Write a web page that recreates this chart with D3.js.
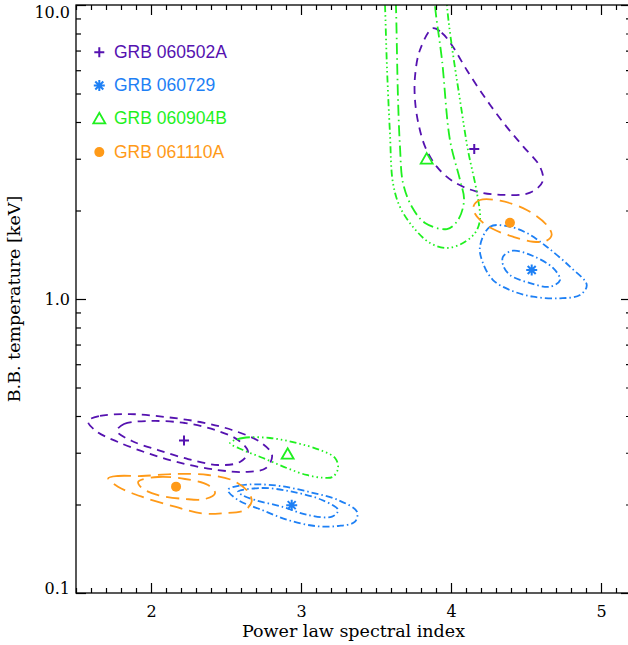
<!DOCTYPE html>
<html>
<head>
<meta charset="utf-8">
<script src="https://cdn.jsdelivr.net/npm/d3@7"></script>
<style>
  body { margin: 0; background: #fff; }
  svg { display: block; }
</style>
</head>
<body>
<div id="chart"></div>
<script>
// GRB names, legend order
const grbNames = ["GRB 060502A", "GRB 060729", "GRB 060904B", "GRB 061110A"];

// best fit points: [power law index, kT in keV], two components per burst
const fit060502A = [[2.22, 0.330], [4.155, 3.24]];
const fit060729 = [[2.938, 0.199], [4.538, 1.255]];
const fit060904B = [[2.911, 0.2965], [3.838, 2.99]];
const fit061110A = [[2.167, 0.230], [4.393, 1.818]];

// confidence contours: [index, kT]
const c060502A_hi = [[3.878, 8.33], [3.938, 8.05], [4.005, 7.31], [4.105, 6.01], [4.238, 4.75], [4.371, 3.85],
  [4.482, 3.30], [4.593, 2.82], [4.611, 2.51], [4.527, 2.30], [4.349, 2.26], [4.171, 2.32], [4.015, 2.51],
  [3.905, 2.82], [3.827, 3.30], [3.782, 3.97], [3.76, 4.75], [3.76, 5.70], [3.793, 7.03]];
const c060502A_loOuter = [[1.58, 0.3846], [1.66, 0.400], [1.86, 0.406], [2.093, 0.397], [2.327, 0.3816],
  [2.54, 0.3585], [2.727, 0.3263], [2.807, 0.2947], [2.767, 0.2662], [2.627, 0.258], [2.447, 0.262],
  [2.227, 0.2747], [1.993, 0.2971], [1.78, 0.3263], [1.633, 0.3556]];
const c060502A_loInner = [[1.773, 0.3556], [1.82, 0.3756], [1.993, 0.3846], [2.227, 0.3786], [2.427, 0.3585],
  [2.58, 0.3314], [2.647, 0.3017], [2.593, 0.279], [2.447, 0.2725], [2.247, 0.2856], [2.047, 0.3064], [1.873, 0.3289]];

const c060729_hiOuter = [[4.193, 1.506], [4.26, 1.762], [4.371, 1.771], [4.505, 1.677], [4.638, 1.506],
  [4.793, 1.288], [4.905, 1.116], [4.86, 1.032], [4.727, 1.0055], [4.547, 1.018], [4.393, 1.073],
  [4.28, 1.16], [4.213, 1.326]];
const c060729_hiInner = [[4.347, 1.393], [4.413, 1.46], [4.547, 1.40], [4.68, 1.275], [4.727, 1.16],
  [4.66, 1.101], [4.527, 1.133], [4.393, 1.207], [4.347, 1.305]];
const c060729_loOuter = [[2.513, 0.224], [2.593, 0.2321], [2.705, 0.2343], [2.86, 0.2312], [3.047, 0.2211],
  [3.247, 0.2072], [3.373, 0.189], [3.36, 0.1748], [3.247, 0.169], [3.093, 0.169], [2.913, 0.1771],
  [2.74, 0.1916], [2.58, 0.2072]];
const c060729_loInner = [[2.58, 0.2211], [2.74, 0.2276], [2.94, 0.2211], [3.14, 0.2072], [3.247, 0.1916],
  [3.207, 0.1818], [3.047, 0.1842], [2.873, 0.1966], [2.693, 0.2072], [2.607, 0.2154]];

const c060904B_hiOuter = [[3.553, 12], [3.56, 10], [3.573, 6.17], [3.593, 3.67], [3.613, 2.481], [3.66, 2.056],
  [3.747, 1.758], [3.86, 1.55], [3.973, 1.491], [4.08, 1.55], [4.16, 1.677], [4.193, 1.857], [4.173, 2.294],
  [4.113, 3.212], [4.06, 4.75], [4.0, 7.6], [3.973, 10], [3.967, 12]];
const c060904B_hiInner = [[3.627, 12], [3.633, 10], [3.647, 4.75], [3.66, 3.289], [3.68, 2.481], [3.74, 2.056],
  [3.827, 1.814], [3.973, 1.73], [4.047, 1.857], [4.087, 2.171], [4.06, 2.54], [3.993, 3.474],
  [3.94, 6.5], [3.893, 10], [3.887, 12]];
const c060904B_lo = [[2.527, 0.3237], [2.613, 0.3367], [2.793, 0.3367], [2.971, 0.3237], [3.127, 0.3064],
  [3.227, 0.2879], [3.247, 0.2662], [3.213, 0.2486], [3.147, 0.2467], [3.038, 0.252], [2.905, 0.2662],
  [2.747, 0.2879], [2.613, 0.3064]];

const c061110A_hi = [[4.149, 2.061], [4.193, 2.171], [4.327, 2.16], [4.505, 2.008], [4.638, 1.785],
  [4.671, 1.651], [4.638, 1.579], [4.547, 1.566], [4.413, 1.629], [4.28, 1.73], [4.193, 1.857], [4.153, 1.982]];
const c061110A_loOuter = [[1.715, 0.2455], [1.78, 0.25], [1.938, 0.25], [2.16, 0.254], [2.38, 0.252],
  [2.538, 0.2423], [2.647, 0.2211], [2.671, 0.2044], [2.627, 0.1916], [2.471, 0.1867], [2.338, 0.1867],
  [2.16, 0.1966], [1.938, 0.2126], [1.78, 0.230]];
const c061110A_loInner = [[1.915, 0.2391], [2.047, 0.2481], [2.227, 0.2442], [2.38, 0.2329], [2.427, 0.2188],
  [2.36, 0.2088], [2.227, 0.2088], [2.047, 0.2154], [1.938, 0.2276]];

const xMajor = [2, 3, 4, 5];
const yMajor = [0.1, 1, 10];

// styles
const colors = ["#5512b0", "#1e80f5", "#1ff01f", "#ff9a18"];
const symbols = ["plus", "asterisk", "triangle", "circle"];
const fits = [fit060502A, fit060729, fit060904B, fit061110A];

const dashPurple = "8,6";
const dashBlue = "7,3,1.5,3";
const dash3dot = "7,3,1.5,3,1.5,3,1.5,3";
const dashDot = "11,4,1.5,4";
const dashOrange = "13,7";

const contours = [
  { pts: c060502A_hi, g: 0, dash: dashPurple, closed: true },
  { pts: c060502A_loOuter, g: 0, dash: dashPurple, closed: true },
  { pts: c060502A_loInner, g: 0, dash: dashPurple, closed: true },
  { pts: c060729_hiOuter, g: 1, dash: dashBlue, closed: true },
  { pts: c060729_hiInner, g: 1, dash: dashBlue, closed: true },
  { pts: c060729_loOuter, g: 1, dash: dashBlue, closed: true },
  { pts: c060729_loInner, g: 1, dash: dashBlue, closed: true },
  { pts: c060904B_hiOuter, g: 2, dash: dash3dot, closed: false },
  { pts: c060904B_hiInner, g: 2, dash: dashDot, closed: false },
  { pts: c060904B_lo, g: 2, dash: dash3dot, closed: true },
  { pts: c061110A_hi, g: 3, dash: dashOrange, closed: true },
  { pts: c061110A_loOuter, g: 3, dash: dashOrange, closed: true },
  { pts: c061110A_loInner, g: 3, dash: dashOrange, closed: true },
];

const width = 628, height = 645;
const mLeft = 76, mRight = 631, mTop = 5, mBottom = 593;

const svg = d3.select("#chart").append("svg")
  .attr("width", width).attr("height", height);

const x = d3.scaleLinear().domain([1.5, 5.2]).range([mLeft, mRight]);
const y = d3.scaleLog().domain([0.1, 10]).range([mBottom, mTop]);

svg.append("clipPath").attr("id", "plotclip")
  .append("rect").attr("x", mLeft).attr("y", mTop)
  .attr("width", mRight - mLeft).attr("height", mBottom - mTop);

const plot = svg.append("g").attr("clip-path", "url(#plotclip)");

const lineClosed = d3.line().x(d => x(d[0])).y(d => y(d[1])).curve(d3.curveCatmullRomClosed.alpha(0.5));
const lineOpen = d3.line().x(d => x(d[0])).y(d => y(d[1])).curve(d3.curveCatmullRom.alpha(0.5));

plot.selectAll("path.contour")
  .data(contours)
  .enter().append("path")
  .attr("class", "contour")
  .attr("d", d => (d.closed ? lineClosed : lineOpen)(d.pts))
  .attr("fill", "none")
  .attr("stroke", d => colors[d.g])
  .attr("stroke-width", 1.8)
  .attr("stroke-dasharray", d => d.dash);

// markers
function drawSymbol(sel, kind, color) {
  if (kind === "plus") {
    sel.append("path").attr("d", "M-5,0H5M0,-5V5")
      .attr("stroke", color).attr("stroke-width", 2).attr("fill", "none");
  } else if (kind === "asterisk") {
    sel.append("path").attr("d", "M-5.5,0H5.5M0,-5.5V5.5M-4,-4L4,4M-4,4L4,-4")
      .attr("stroke", color).attr("stroke-width", 2).attr("fill", "none");
  } else if (kind === "triangle") {
    sel.append("path").attr("d", "M0,-6L6,4.5H-6Z")
      .attr("stroke", color).attr("stroke-width", 1.8).attr("fill", "none");
  } else {
    sel.append("circle").attr("r", 5).attr("fill", color);
  }
}

fits.forEach((f, i) => {
  f.forEach(p => {
    const g = plot.append("g").attr("transform", `translate(${x(p[0])},${y(p[1])})`);
    drawSymbol(g, symbols[i], colors[i]);
  });
});

// axes
const serif = "'DejaVu Serif', serif";
const xMinor = d3.range(15, 53).map(v => v / 10).filter(v => !xMajor.includes(v));
const yMinor = [];
[0.1, 1].forEach(dec => { for (let k = 2; k <= 9; k++) yMinor.push(+(dec * k).toFixed(2)); });

function styleAxis(g) {
  g.select(".domain").remove();
  g.selectAll("line").attr("stroke", "#000").attr("stroke-width", 1.2);
}

svg.append("g").attr("transform", `translate(0,${mBottom})`)
  .call(d3.axisBottom(x).tickValues(xMinor).tickSize(-5).tickFormat(""))
  .call(styleAxis);
svg.append("g").attr("transform", `translate(0,${mBottom})`)
  .call(d3.axisBottom(x).tickValues(xMajor).tickSize(-10).tickPadding(13).tickFormat(d3.format("d")))
  .call(styleAxis)
  .call(g => g.selectAll("text").attr("font-family", serif).attr("font-size", 16).attr("fill", "#000"));

svg.append("g").attr("transform", `translate(0,${mTop})`)
  .call(d3.axisTop(x).tickValues(xMinor).tickSize(-5).tickFormat(""))
  .call(styleAxis);
svg.append("g").attr("transform", `translate(0,${mTop})`)
  .call(d3.axisTop(x).tickValues(xMajor).tickSize(-10).tickFormat(""))
  .call(styleAxis);

svg.append("g").attr("transform", `translate(${mLeft},0)`)
  .call(d3.axisLeft(y).tickValues(yMinor).tickSize(-5).tickFormat(""))
  .call(styleAxis);
svg.append("g").attr("transform", `translate(${mLeft},0)`)
  .call(d3.axisLeft(y).tickValues(yMajor).tickSize(-10).tickPadding(6).tickFormat(d3.format(".1f")))
  .call(styleAxis)
  .call(g => g.selectAll("text")
    .attr("font-family", serif).attr("font-size", 16).attr("fill", "#000")
    .attr("dy", null)
    .attr("y", d => Math.max(17, Math.min(mBottom, y(d) + 5.5)) - y(d)));

svg.append("g").attr("transform", `translate(${mRight},0)`)
  .call(d3.axisRight(y).tickValues(yMinor).tickSize(-5).tickFormat(""))
  .call(styleAxis);
svg.append("g").attr("transform", `translate(${mRight},0)`)
  .call(d3.axisRight(y).tickValues(yMajor).tickSize(-10).tickFormat(""))
  .call(styleAxis);

svg.append("rect")
  .attr("x", mLeft).attr("y", mTop)
  .attr("width", mRight - mLeft).attr("height", mBottom - mTop)
  .attr("fill", "none").attr("stroke", "#000").attr("stroke-width", 1.3);

// titles
svg.append("text")
  .attr("x", (mLeft + mRight) / 2).attr("y", 637)
  .attr("text-anchor", "middle")
  .attr("font-family", serif).attr("font-size", 17.5)
  .text("Power law spectral index");

svg.append("text")
  .attr("transform", `translate(20,${(mTop + mBottom) / 2}) rotate(-90)`)
  .attr("text-anchor", "middle")
  .attr("font-family", serif).attr("font-size", 17.5)
  .text("B.B. temperature [keV]");

// legend
const legend = svg.append("g");
grbNames.forEach((name, i) => {
  const yy = 57.7 + i * 33.3;
  const s = legend.append("g").attr("transform", `translate(99.3,${yy - 5.5})`);
  drawSymbol(s, symbols[i], colors[i]);
  legend.append("text")
    .attr("x", 114).attr("y", yy)
    .attr("font-family", "'Liberation Sans', sans-serif").attr("font-size", 17.5)
    .attr("fill", colors[i])
    .text(name);
});
</script>
</body>
</html>
